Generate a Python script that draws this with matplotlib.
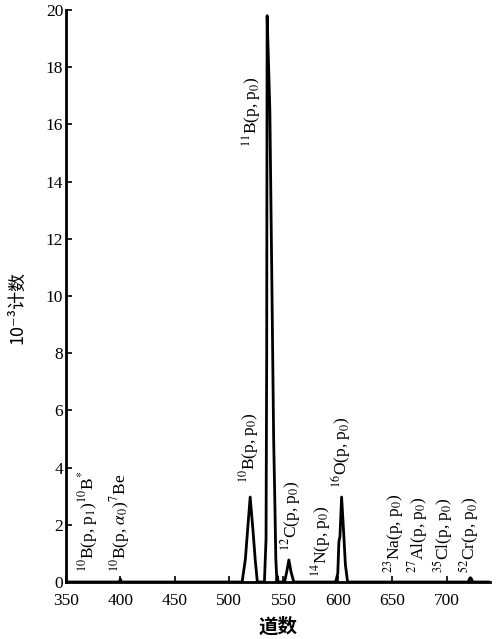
import matplotlib
matplotlib.use("Agg")
import matplotlib.pyplot as plt

plt.rcParams['font.family'] = ['Liberation Serif', 'DejaVu Serif']
plt.rcParams['mathtext.fontset'] = 'stix'

# spectrum: channel, counts (x10^-3)
channels = [350, 399, 400, 401, 512, 515, 517, 519.4, 522, 524, 526,
            532.5, 534, 534.6, 535, 536, 537.5, 539.5, 541, 542, 543, 544, 544.5, 545,
            551, 553, 555, 557, 559.5,
            598, 600, 601, 602, 603.5, 605, 607, 609,
            720, 721, 722, 723, 724, 740]
counts = [0, 0, 0.1, 0, 0, 0.8, 1.8, 2.97, 1.8, 0.8, 0,
          0, 1.5, 8.0, 19.8, 18.5, 16.5, 10.0, 5.0, 3.0, 0.8, 0, 0.2, 0,
          0, 0.35, 0.77, 0.35, 0,
          0, 0.3, 1.4, 1.6, 2.97, 2.0, 0.6, 0,
          0, 0.1, 0.15, 0.1, 0, 0]

# peak labels
label_text = [r"$^{10}$B(p, p$_1$)$^{10}$B$^{*}$", r"$^{10}$B(p, $\alpha_0$)$^{7}$Be",
              r"$^{10}$B(p, p$_0$)", r"$^{11}$B(p, p$_0$)", r"$^{12}$C(p, p$_0$)",
              r"$^{14}$N(p, p$_0$)", r"$^{16}$O(p, p$_0$)", r"$^{23}$Na(p, p$_0$)",
              r"$^{27}$Al(p, p$_0$)", r"$^{35}$Cl(p, p$_0$)", r"$^{52}$Cr(p, p$_0$)"]
label_x = [370, 399.5, 518, 521.5, 556.5, 585, 603, 652, 673.5, 696.5, 721]
label_y = [0.35, 0.35, 3.45, 15.2, 1.1, 0.17, 3.3, 0.3, 0.3, 0.3, 0.3]

xticks = [350, 400, 450, 500, 550, 600, 650, 700]
yticks = [0, 2, 4, 6, 8, 10, 12, 14, 16, 18, 20]

fig = plt.figure(figsize=(4.98, 6.39), dpi=100)
ax = fig.add_axes([66/498, 1 - 582/639, (490-66)/498, (582-10)/639])

ax.plot(channels, counts, color='black', lw=2)

for txt, x, y in zip(label_text, label_x, label_y):
    ax.text(x, y, txt, rotation=90, ha='center', va='bottom', fontsize=12.5)

ax.set_xlim(350, 740)
ax.set_ylim(0, 20)
ax.set_xticks(xticks)
ax.set_yticks(yticks)
ax.tick_params(direction='in', length=4, width=1.2, labelsize=12.5)
ax.tick_params(axis='x', pad=8)
ax.tick_params(axis='y', pad=2)
ax.spines['top'].set_visible(False)
ax.spines['right'].set_visible(False)
ax.spines['left'].set_linewidth(2)
ax.spines['bottom'].set_linewidth(2)

fig.text(278/498, 1 - 627/639, "道数", ha='center', va='center', fontsize=14,
         family=['Noto Sans CJK SC', 'DejaVu Sans'], fontweight='bold')
fig.text(17/498, 1 - 307/639, "10⁻³计数", ha='center', va='center', rotation=90,
         fontsize=13, family=['Noto Sans CJK SC', 'DejaVu Sans'])

fig.savefig("out.png", dpi=100)
